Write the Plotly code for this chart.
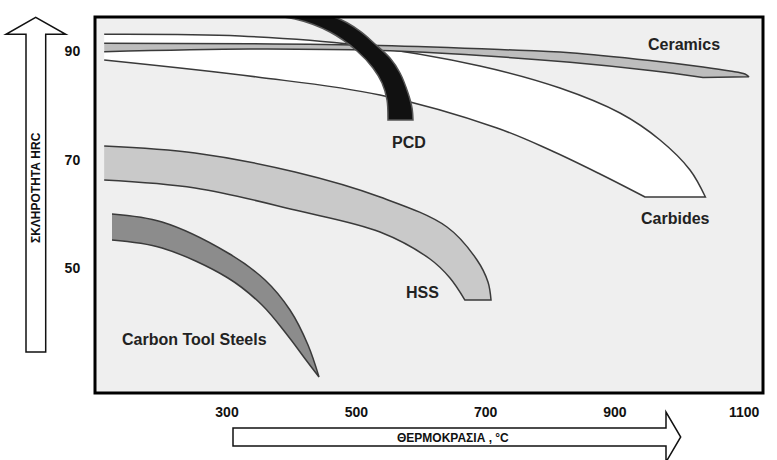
import plotly.graph_objects as go

# ---------------- data (temperature °C, hardness HRC) ----------------
x_ticks = [300, 500, 700, 900, 1100]
y_ticks = [50, 70, 90]

carbides_upper_x = [110, 320, 501, 691.3, 815, 907.9, 969.8, 1016.2, 1040]
carbides_upper_y = [93.11, 92.80, 91.14, 87.27, 83.21, 78.60, 73.63, 68.10, 63.12]
carbides_lower_x = [110, 346.4, 536.7, 717.6, 799.6, 877, 946.6]
carbides_lower_y = [88.37, 85.24, 81.92, 75.84, 71.78, 67.36, 63.12]

ceramics_upper_x = [110, 335.6, 536.7, 722.2, 830.6, 954.3, 1036.3, 1078, 1101.2, 1107.4]
ceramics_upper_y = [91.45, 91.38, 91.05, 90.31, 89.72, 88.28, 87.08, 86.34, 85.79, 85.28]
ceramics_lower_x = [110, 335.6, 536.7, 691.3, 830.6, 954.3, 1036.3]
ceramics_lower_y = [89.90, 90.40, 90.12, 89.20, 87.95, 86.44, 85.16]

pcd_outer_x = [335.6, 413.0, 470.0, 505.7, 528.9, 552.1, 567.6, 580.0, 586.2, 587.7]
pcd_outer_y = [97.59, 97.04, 96.11, 93.71, 91.32, 88.74, 85.98, 82.29, 79.52, 77.31]
pcd_inner_x = [549.0, 547.5, 539.8, 525.8, 501.1, 459.3, 405.2, 320.1]
pcd_inner_y = [77.31, 81.00, 84.13, 86.90, 90.03, 93.53, 95.93, 96.85]

hss_upper_x = [110, 250.5, 405.2, 536.7, 640.3, 686.7, 703.7, 708.4]
hss_upper_y = [72.52, 71.23, 67.73, 63.12, 57.59, 51.51, 47.45, 44.13]
hss_lower_x = [110, 250.5, 405.2, 536.7, 614, 644.9, 668]
hss_lower_y = [66.25, 64.78, 60.72, 56.67, 51.69, 48.19, 44.13]

carbon_upper_x = [122.1, 199.5, 301.5, 358.8, 397.4, 425.3, 442.3]
carbon_upper_y = [59.99, 58.51, 52.80, 47.82, 42.29, 35.84, 29.94]
carbon_lower_x = [122.1, 199.5, 301.5, 354.1, 394.4, 422.2, 442.3]
carbon_lower_y = [55.19, 53.72, 48.19, 43.21, 37.50, 33.07, 29.94]

# ---------------- layout helpers ----------------
W, H = 777, 460
L, R, T, B = 95, 14, 17, 67
FONT = "Liberation Sans, Arial, sans-serif"
EDGE = "#3a3a3a"


def pxx(x):
    return (x - L) / (W - L - R)


def pxy(y):
    return (H - B - y) / (H - T - B)


def path(points):
    return "M " + " L ".join(f"{pxx(a):.5f},{pxy(b):.5f}" for a, b in points) + " Z"


fig = go.Figure()


def outline(xs, ys, fill, edge=EDGE):
    fig.add_trace(go.Scatter(
        x=xs, y=ys, mode="lines", fill="toself", fillcolor=fill,
        line=dict(color=edge, width=1.5, shape="spline", smoothing=1, simplify=False),
        hoverinfo="skip", showlegend=False))


def band(ux, uy, lx, ly, fill, edge=EDGE):
    # upper edge left->right, corner repeated (sharp), lower edge right->left
    xs = list(ux) + [ux[-1]] + [lx[-1]] + list(lx)[::-1]
    ys = list(uy) + [uy[-1]] + [ly[-1]] + list(ly)[::-1]
    outline(xs, ys, fill, edge)


band(carbides_upper_x, carbides_upper_y, carbides_lower_x, carbides_lower_y, "#ffffff")
band(ceramics_upper_x, ceramics_upper_y, ceramics_lower_x, ceramics_lower_y, "#bdbdbd")
band(hss_upper_x, hss_upper_y, hss_lower_x, hss_lower_y, "#c9c9c9")
band(carbon_upper_x, carbon_upper_y, carbon_lower_x, carbon_lower_y, "#8c8c8c")

pcd_x = pcd_outer_x + [pcd_outer_x[-1], pcd_inner_x[0]] + pcd_inner_x
pcd_y = pcd_outer_y + [pcd_outer_y[-1], pcd_inner_y[0]] + pcd_inner_y
outline(pcd_x, pcd_y, "#111111", "#555555")

labels = [
    ("Ceramics", 1007, 91.3),
    ("PCD", 581, 73.1),
    ("Carbides", 994, 59.1),
    ("HSS", 603, 45.6),
    ("Carbon Tool Steels", 250, 36.8),
]
annotations = []
for txt, ax, ay in labels:
    annotations.append(dict(x=ax, y=ay, xref="x", yref="y", text=f"<b>{txt}</b>",
                            showarrow=False, xanchor="center", yanchor="middle",
                            font=dict(family=FONT, size=16, color="#222222")))

annotations.append(dict(x=pxx(36), y=pxy(188), xref="paper", yref="paper",
                        text="<b>ΣΚΛΗΡΟΤΗΤΑ HRC</b>", textangle=-90, showarrow=False,
                        xanchor="center", yanchor="middle",
                        font=dict(family=FONT, size=12, color="#111111")))
annotations.append(dict(x=pxx(453), y=pxy(438), xref="paper", yref="paper",
                        text="<b>ΘΕΡΜΟΚΡΑΣΙΑ , °C</b>", showarrow=False,
                        xanchor="center", yanchor="middle",
                        font=dict(family=FONT, size=12, color="#111111")))

shapes = [
    dict(type="path", xref="paper", yref="paper",
         path=path([(26, 352), (26, 34.3), (6, 34.3), (35.7, 17.3), (65.7, 34.3), (45.7, 34.3), (45.7, 352)]),
         line=dict(color="#111111", width=1.5), fillcolor="white", layer="below"),
    dict(type="path", xref="paper", yref="paper",
         path=path([(233, 428), (666, 428), (666, 412), (680.7, 437), (666, 462), (666, 446), (233, 446)]),
         line=dict(color="#111111", width=1.5), fillcolor="white", layer="below"),
    dict(type="rect", xref="paper", yref="paper", x0=0, x1=1, y0=0, y1=1,
         line=dict(color="#000000", width=3), layer="above"),
]

fig.update_layout(
    width=W, height=H,
    margin=dict(l=L, r=R, t=T, b=B, pad=0),
    paper_bgcolor="white", plot_bgcolor="#efefef",
    xaxis=dict(range=[95.8, 1129.1], tickvals=x_ticks,
               ticktext=[f"<b>{v}</b>" for v in x_ticks],
               showgrid=False, zeroline=False, showline=False,
               ticks="outside", ticklen=6, tickcolor="rgba(0,0,0,0)",
               tickfont=dict(family=FONT, size=14, color="#111111"), fixedrange=True),
    yaxis=dict(range=[26.99, 96.3], tickvals=y_ticks,
               ticktext=[f"<b>{v}</b>" for v in y_ticks],
               showgrid=False, zeroline=False, showline=False,
               ticks="outside", ticklen=11, tickcolor="rgba(0,0,0,0)",
               tickfont=dict(family=FONT, size=14, color="#111111"), fixedrange=True),
    annotations=annotations, shapes=shapes, showlegend=False,
)

fig.write_html("out.html", config={"displayModeBar": False},
               post_script="document.body.style.margin='0';")
